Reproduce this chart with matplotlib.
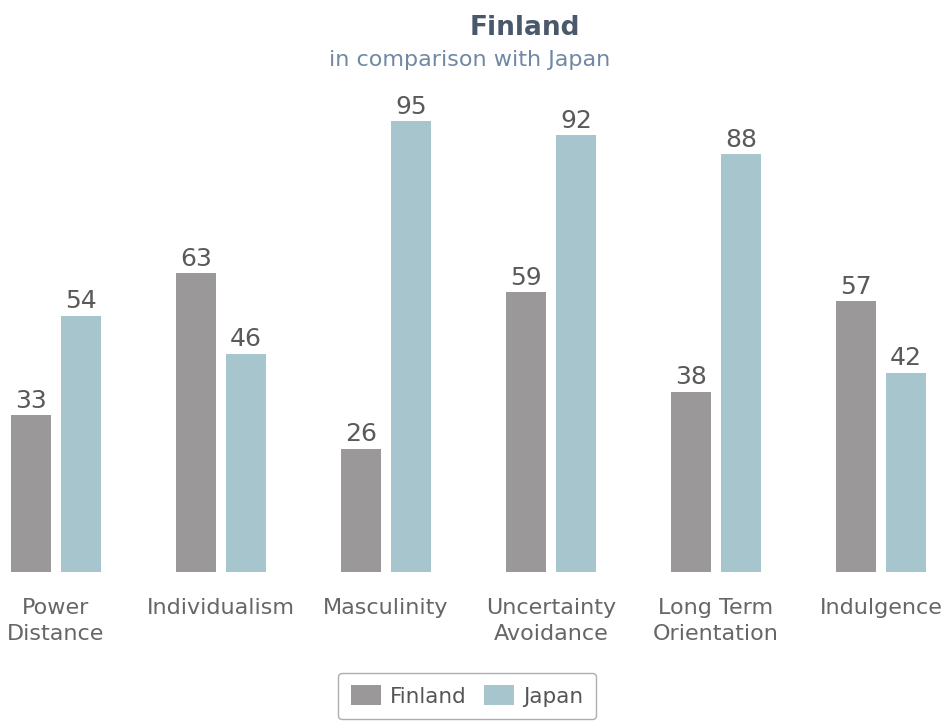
from matplotlib import pyplot as plt
import numpy as np

# the data
categories = ['Power\nDistance', 'Individualism', 'Masculinity',
              'Uncertainty\nAvoidance', 'Long Term\nOrientation', 'Indulgence']
finland = [33, 63, 26, 59, 38, 57]
japan = [54, 46, 95, 92, 88, 42]

plt.rcParams['font.family'] = ['DejaVu Sans']

fig = plt.figure(figsize=(9.44, 7.22), dpi=100)
ax = fig.add_axes([0, 150 / 722, 1, 472 / 722])

xList = np.arange(len(categories))
width = 40 / 165
off = 25 / 165
b1 = ax.bar(xList - off, finland, width, color='#9a9899', label='Finland')
b2 = ax.bar(xList + off, japan, width, color='#a7c5cc', label='Japan')

for bars in (b1, b2):
    for r in bars:
        ax.annotate(str(int(r.get_height())), (r.get_x() + r.get_width() / 2, r.get_height()),
                    xytext=(0, 1.5), textcoords='offset points', ha='center', va='bottom',
                    fontsize=18, color='#5a5a5a')

ax.set_xlim(-56 / 165, 888 / 165)
ax.set_ylim(0, 472 / 4.75)
ax.set_xticks(xList)
ax.set_xticklabels(categories, fontsize=16, color='#666666', linespacing=1.36)
ax.tick_params(axis='x', length=0, pad=19)
ax.set_yticks([])
for s in ax.spines.values():
    s.set_visible(False)

fig.text(525 / 944, 1 - 28 / 722, 'Finland', ha='center', va='center', fontsize=19,
         fontweight='bold', color='#4a586c')
fig.text(470 / 944, 1 - 60 / 722, 'in comparison with Japan', ha='center', va='center',
         fontsize=16, color='#7088a4')

leg = fig.legend(loc='center', bbox_to_anchor=(467 / 944, 1 - 696 / 722), ncol=2,
                 fontsize=15.5, frameon=True, fancybox=True, handlelength=1.4,
                 handleheight=1.0, columnspacing=0.8, handletextpad=0.42,
                 borderpad=0.6, borderaxespad=0)
leg.get_frame().set_edgecolor('#999999')
leg.get_frame().set_linewidth(1.0)
for t in leg.get_texts():
    t.set_color('#555555')

plt.savefig('out.png', dpi=100)
